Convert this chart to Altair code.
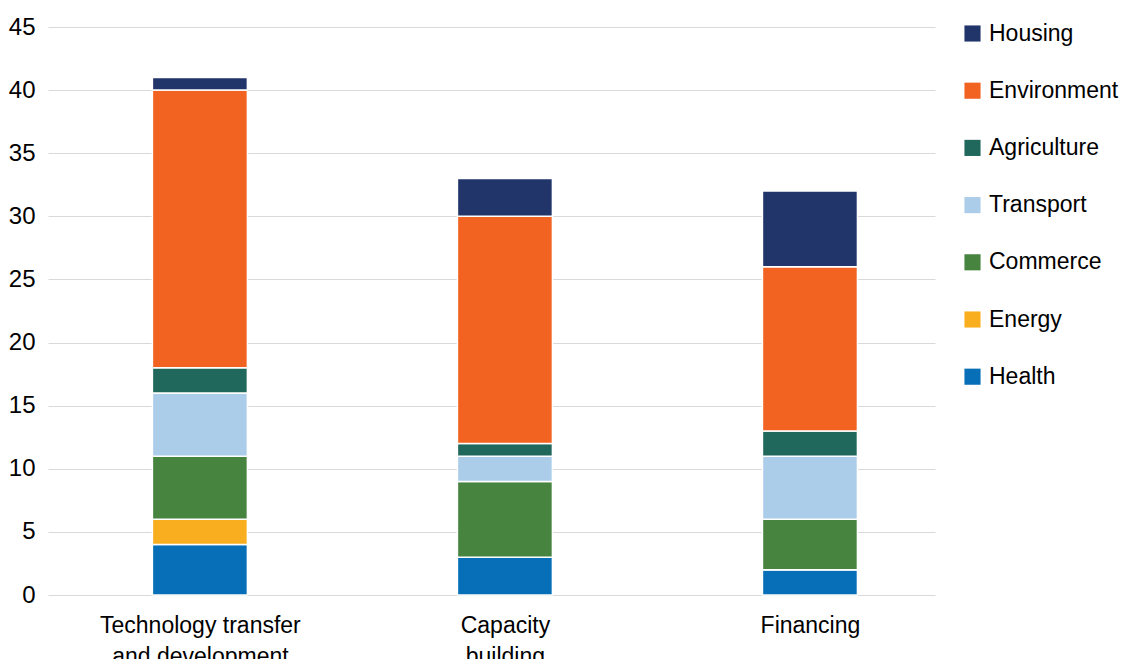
import altair as alt
import pandas as pd

categories = ["Technology transfer|and development", "Capacity|building", "Financing"]
sectors = ["Housing", "Environment", "Agriculture", "Transport", "Commerce", "Energy", "Health"]
colors = ["#22356b", "#f26322", "#20675c", "#abcde9", "#46843f", "#f9ae1f", "#066fb7"]

health = [4, 3, 2]
energy = [2, 0, 0]
commerce = [5, 6, 4]
transport = [5, 2, 5]
agriculture = [2, 1, 2]
environment = [22, 18, 13]
housing = [1, 3, 6]

series = {
    "Health": health,
    "Energy": energy,
    "Commerce": commerce,
    "Transport": transport,
    "Agriculture": agriculture,
    "Environment": environment,
    "Housing": housing,
}
stack_order = ["Health", "Energy", "Commerce", "Transport", "Agriculture", "Environment", "Housing"]

rows = []
for s, vals in series.items():
    for i, (c, v) in enumerate(zip(categories, vals)):
        rows.append({"idx": i, "category": c, "sector": s, "value": v, "ord": stack_order.index(s)})
df = pd.DataFrame(rows)

FONT = "Liberation Sans"
label_expr = "split([" + ",".join("'" + c + "'" for c in categories) + "][datum.value], '|')"

chart = alt.Chart(df).mark_bar(size=95, stroke="white", strokeWidth=1.5).encode(
    x=alt.X("idx:Q", title=None,
            scale=alt.Scale(domain=[-0.498, 2.41], nice=False, zero=False, padding=0),
            axis=alt.Axis(values=[0, 1, 2], labelExpr=label_expr, grid=False,
                          labelFontSize=23, labelPadding=19, labelLineHeight=31, labelLimit=400,
                          labelFlush=False, labelOverlap=False,
                          ticks=False, domain=False, labelColor="#000000", labelFont=FONT)),
    y=alt.Y("value:Q", title=None, stack="zero",
            scale=alt.Scale(domain=[0, 45], nice=False),
            axis=alt.Axis(values=list(range(0, 46, 5)), labelFontSize=24, labelPadding=13,
                          ticks=False, domain=False, gridColor="#d9d9d9", gridWidth=1.2,
                          labelColor="#000000", labelFont=FONT)),
    color=alt.Color("sector:N", scale=alt.Scale(domain=sectors, range=colors),
                    legend=alt.Legend(title=None, orient="none", legendX=913, legendY=-5,
                                      symbolType="square", symbolSize=260, symbolStrokeWidth=0,
                                      labelFontSize=23, labelFont=FONT, labelColor="#000000",
                                      rowPadding=33.2, labelOffset=5, padding=0, labelLimit=300)),
    order=alt.Order("ord:Q", sort="ascending"),
).properties(
    width=887, height=568,
    background="white",
    padding={"left": 40, "top": 19, "right": 186, "bottom": 64},
    autosize=alt.AutoSizeParams(type="none"),
).configure_view(stroke=None)

chart.save("out.html", embed_options={"renderer": "svg", "actions": False})
